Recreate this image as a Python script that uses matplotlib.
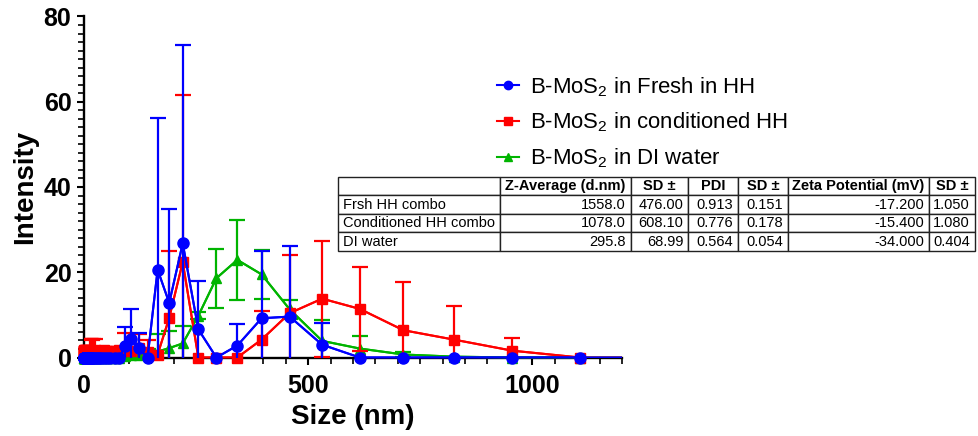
import matplotlib
matplotlib.use("Agg")
import matplotlib.pyplot as plt
from matplotlib.lines import Line2D
from matplotlib.ticker import MultipleLocator
import numpy as np

plt.rcParams["font.family"] = ["Liberation Sans", "DejaVu Sans"]
plt.rcParams["mathtext.fontset"] = "custom"
plt.rcParams["mathtext.rm"] = "Liberation Sans"
plt.rcParams["mathtext.it"] = "Liberation Sans:italic"
plt.rcParams["mathtext.bf"] = "Liberation Sans:bold"

# DLS size classes (nm)
size_nm = [0.4, 0.4632, 0.5365, 0.6213, 0.7195, 0.8332, 0.965, 1.117, 1.294, 1.499,
           1.736, 2.01, 2.328, 2.696, 3.122, 3.615, 4.187, 4.849, 5.615, 6.503,
           7.531, 8.721, 10.1, 11.7, 13.54, 15.69, 18.17, 21.04, 24.36, 28.21,
           32.67, 37.84, 43.82, 50.75, 58.77, 68.06, 78.82, 91.28, 105.7, 122.4,
           141.8, 164.2, 190.1, 220.2, 255.0, 295.3, 342.0, 396.1, 458.7, 531.2,
           615.1, 712.4, 825.0, 955.4, 1106.0, 1281.0]

# Intensity (%) mean and SD for each size class
fresh_mean = [0.0] * 37 + [2.7, 4.3, 2.2, 0.0, 20.6, 12.8, 26.8, 6.6, 0.0, 2.8,
                           9.2, 9.6, 3.0, 0.0, 0.0, 0.0, 0.0, 0.0, 0.0]
fresh_sd = [0.0] * 37 + [4.4, 7.0, 3.6, 0.0, 35.7, 22.0, 46.4, 11.4, 0.0, 5.0,
                         15.8, 16.5, 5.0, 0.0, 0.0, 0.0, 0.0, 0.0, 0.0]

cond_mean = [1.5, 1.6, 1.5, 1.6, 1.7, 1.6, 1.5, 1.6, 1.7, 1.6,
             1.5, 1.6, 1.7, 1.6, 1.5, 1.6, 1.7, 1.6, 1.5, 1.6,
             1.7, 1.6, 1.5, 1.6, 1.7, 1.6, 1.5, 1.6, 1.7, 1.6,
             1.5, 1.6, 1.7, 1.6, 1.5, 1.6, 1.7, 1.8, 1.6, 2.2,
             1.4, 0.7, 9.3, 22.4, 0.0, 0.0, 0.0, 4.2, 10.4, 13.8,
             11.4, 6.4, 4.2, 1.6, 0.0, 0.0]
cond_sd = [0.0] * 24 + [2.7] * 5 + [0.0] * 8 + [3.9, 0.0, 3.3,
           2.6, 0.0, 15.7, 39.1, 0.0, 0.0, 0.0, 6.8, 13.6, 13.6,
           9.8, 11.2, 7.9, 2.9, 0.0, 0.0]

di_mean = [0.0] * 37 + [0.3, 0.6, 0.5, 0.9, 1.4, 2.2, 3.3, 9.8, 18.6, 22.9,
                        19.5, 11.3, 3.9, 2.1, 0.7, 0.2, 0.0, 0.0, 0.0]
di_sd = [0.0] * 37 + [0.0, 0.8, 0.0, 1.2, 4.0, 4.0, 4.1, 0.8, 6.9, 9.4,
                      5.8, 2.2, 4.9, 3.0, 0.6, 0.0, 0.0, 0.0, 0.0]

series_labels = ["B-MoS$_\\mathregular{2}$ in Fresh in HH",
                 "B-MoS$_\\mathregular{2}$ in conditioned HH",
                 "B-MoS$_\\mathregular{2}$ in DI water"]

table_columns = ["", "Z-Average (d.nm)", "SD \u00b1", "PDI", "SD \u00b1",
                 "Zeta Potential (mV)", "SD \u00b1"]
sample_names = ["Frsh HH combo", "Conditioned HH combo", "DI water"]
z_average = ["1558.0", "1078.0", "295.8"]
z_sd = ["476.00", "608.10", "68.99"]
pdi = ["0.913", "0.776", "0.564"]
pdi_sd = ["0.151", "0.178", "0.054"]
zeta = ["-17.200", "-15.400", "-34.000"]
zeta_sd = ["1.050", "1.080", "0.404"]

XMAX, YMAX = 1200, 80

fig = plt.figure(figsize=(9.79, 4.36), dpi=100)
ax = fig.add_axes([84 / 979, 1 - 357.5 / 436, (622 - 84) / 979, (357.5 - 16.5) / 436])

styles = [
    dict(color="#0000FF", marker="o", ms=8.0, z=6),
    dict(color="#FF0000", marker="s", ms=7.0, z=5),
    dict(color="#00B400", marker="^", ms=7.5, z=4),
]
data = [(fresh_mean, fresh_sd), (cond_mean, cond_sd), (di_mean, di_sd)]

x = np.array(size_nm)
inside = x <= XMAX
for (mean, sd), st in zip(data, styles):
    m = np.array(mean)
    s = np.array(sd)
    has_err = s > 0
    ax.errorbar(x[has_err], m[has_err], yerr=s[has_err], fmt="none",
                ecolor=st["color"], elinewidth=1.6, capsize=6, capthick=1.6,
                zorder=st["z"] - 0.5)
    # tail of the curve running off the right edge of the axis
    ax.plot(x, m, color=st["color"], lw=1.5, zorder=st["z"] - 0.6, clip_on=True)
    ax.plot(x[inside], m[inside], color=st["color"], lw=1.5, marker=st["marker"],
            ms=st["ms"], mec=st["color"], mfc=st["color"], zorder=st["z"],
            clip_on=False)

ax.set_xlim(0, XMAX)
ax.set_ylim(0, YMAX)
ax.spines["top"].set_visible(False)
ax.spines["right"].set_visible(False)
for sp in ("left", "bottom"):
    ax.spines[sp].set_linewidth(1.7)
ax.xaxis.set_major_locator(MultipleLocator(500))
ax.xaxis.set_minor_locator(MultipleLocator(50))
ax.yaxis.set_major_locator(MultipleLocator(20))
ax.yaxis.set_minor_locator(MultipleLocator(2))
ax.tick_params(which="major", length=5, width=1.5, labelsize=18, pad=4)
ax.tick_params(which="minor", length=4, width=1.2)
ax.tick_params(axis="x", which="major", pad=7)
for lab in ax.get_xticklabels() + ax.get_yticklabels():
    lab.set_fontweight("bold")

ax.set_xlabel("Size (nm)", fontsize=20, fontweight="bold", labelpad=4)
ax.set_ylabel("Intensity", fontsize=20, fontweight="bold", labelpad=4)

handles = [Line2D([], [], color=st["color"], lw=1.5, marker=st["marker"], ms=6)
           for st in styles]
fig.legend(handles, series_labels, loc="upper left",
           bbox_to_anchor=(497 / 979, 1 - 75 / 436), frameon=False,
           fontsize=15.9, handlelength=1.0, handletextpad=0.5, labelspacing=0.55,
           borderpad=0, borderaxespad=0)

# Summary table
tax = fig.add_axes([338.3 / 979, 1 - 251 / 436, (975 - 338.3) / 979, (251 - 176.7) / 436])
tax.axis("off")
col_px = [161.7, 131, 57.3, 50, 49.4, 141.6, 45.7]
cell_text = [list(r) for r in zip(sample_names, z_average, z_sd, pdi, pdi_sd, zeta, zeta_sd)]
tbl = tax.table(cellText=[table_columns] + cell_text,
                colWidths=[c / sum(col_px) for c in col_px],
                bbox=[0, 0, 1, 1], cellLoc="right")
tbl.auto_set_font_size(False)
tbl.set_fontsize(10.5)
for (r, c), cell in tbl.get_celld().items():
    cell.set_edgecolor("#222222")
    cell.set_linewidth(1.0)
    cell.PAD = 5.0 / col_px[c]
    txt = cell.get_text()
    if r == 0:
        txt.set_fontweight("bold")
        cell._loc = "center"
        txt.set_horizontalalignment("center")
    elif c == 0:
        cell._loc = "left"
        txt.set_horizontalalignment("left")

fig.savefig("out.png", dpi=100)
